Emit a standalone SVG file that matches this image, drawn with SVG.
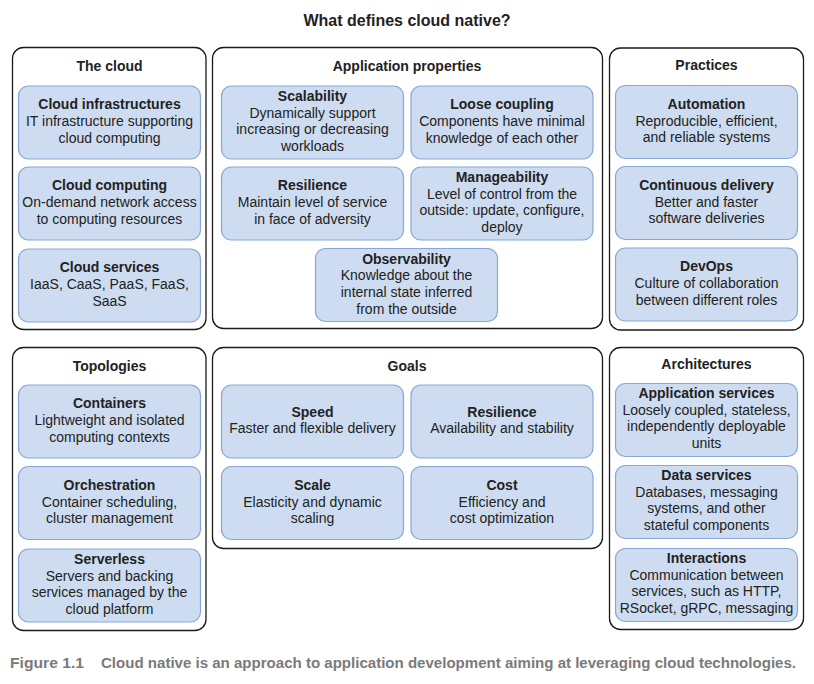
<svg xmlns="http://www.w3.org/2000/svg" width="814" height="684" viewBox="0 0 814 684">
<style>
.panel{fill:#fff;stroke:#1a1a1a;stroke-width:1.3}
.box{fill:#cddcf0;stroke:#88a7d6;stroke-width:1.2}
text{font-family:"Liberation Sans",Arial,sans-serif;font-size:14px;fill:#222;text-anchor:middle}
.b{font-weight:bold}
.title{font-size:16px;font-weight:bold}
.cap{font-weight:bold;fill:#7a7a7a;text-anchor:start}
</style>
<rect width="814" height="684" fill="#fff"/>
<text class="title" x="407" y="26">What defines cloud native?</text>
<g id="connectors"></g>

<g id="panel-cloud">
<rect class="panel" x="12.5" y="47.5" width="193.5" height="282" rx="11"/>
<text class="b" x="109.5" y="70.5">The cloud</text>
</g>
<g id="node-cloud-infrastructures">
<rect class="box" x="18.5" y="86" width="182" height="73" rx="10"/>
<text x="109.5" y="109.3"><tspan class="b">Cloud infrastructures</tspan><tspan x="109.5" y="126">IT infrastructure supporting</tspan><tspan x="109.5" y="142.7">cloud computing</tspan></text>
</g>
<g id="node-cloud-computing">
<rect class="box" x="18.5" y="167" width="182" height="73" rx="10"/>
<text x="109.5" y="190.3"><tspan class="b">Cloud computing</tspan><tspan x="109.5" y="207">On-demand network access</tspan><tspan x="109.5" y="223.7">to computing resources</tspan></text>
</g>
<g id="node-cloud-services">
<rect class="box" x="18.5" y="249" width="182" height="73" rx="10"/>
<text x="109.5" y="272.3"><tspan class="b">Cloud services</tspan><tspan x="109.5" y="289">IaaS, CaaS, PaaS, FaaS,</tspan><tspan x="109.5" y="305.7">SaaS</tspan></text>
</g>

<g id="panel-app">
<rect class="panel" x="212.5" y="47.5" width="390" height="281" rx="11"/>
<text class="b" x="407" y="70.5">Application properties</text>
</g>
<g id="node-scalability">
<rect class="box" x="221.5" y="86" width="182" height="73" rx="10"/>
<text x="312.5" y="101"><tspan class="b">Scalability</tspan><tspan x="312.5" y="117.7">Dynamically support</tspan><tspan x="312.5" y="134.4">increasing or decreasing</tspan><tspan x="312.5" y="151.1">workloads</tspan></text>
</g>
<g id="node-loose-coupling">
<rect class="box" x="411" y="86" width="182" height="73" rx="10"/>
<text x="502" y="109.3"><tspan class="b">Loose coupling</tspan><tspan x="502" y="126">Components have minimal</tspan><tspan x="502" y="142.7">knowledge of each other</tspan></text>
</g>
<g id="node-resilience">
<rect class="box" x="221.5" y="167" width="182" height="73" rx="10"/>
<text x="312.5" y="190.3"><tspan class="b">Resilience</tspan><tspan x="312.5" y="207">Maintain level of service</tspan><tspan x="312.5" y="223.7">in face of adversity</tspan></text>
</g>
<g id="node-manageability">
<rect class="box" x="411" y="167" width="182" height="73" rx="10"/>
<text x="502" y="182"><tspan class="b">Manageability</tspan><tspan x="502" y="198.7">Level of control from the</tspan><tspan x="502" y="215.4">outside: update, configure,</tspan><tspan x="502" y="232.1">deploy</tspan></text>
</g>
<g id="node-observability">
<rect class="box" x="315.5" y="248.5" width="182" height="73" rx="10"/>
<text x="406.5" y="263.5"><tspan class="b">Observability</tspan><tspan x="406.5" y="280.2">Knowledge about the</tspan><tspan x="406.5" y="296.9">internal state inferred</tspan><tspan x="406.5" y="313.6">from the outside</tspan></text>
</g>

<g id="panel-practices">
<rect class="panel" x="609.5" y="48" width="194" height="282" rx="11"/>
<text class="b" x="706.5" y="69.5">Practices</text>
</g>
<g id="node-automation">
<rect class="box" x="615.5" y="85.5" width="182" height="73" rx="10"/>
<text x="706.5" y="108.8"><tspan class="b">Automation</tspan><tspan x="706.5" y="125.5">Reproducible, efficient,</tspan><tspan x="706.5" y="142.2">and reliable systems</tspan></text>
</g>
<g id="node-continuous-delivery">
<rect class="box" x="615.5" y="166.5" width="182" height="73" rx="10"/>
<text x="706.5" y="189.8"><tspan class="b">Continuous delivery</tspan><tspan x="706.5" y="206.5">Better and faster</tspan><tspan x="706.5" y="223.2">software deliveries</tspan></text>
</g>
<g id="node-devops">
<rect class="box" x="615.5" y="248" width="182" height="73" rx="10"/>
<text x="706.5" y="271.3"><tspan class="b">DevOps</tspan><tspan x="706.5" y="288">Culture of collaboration</tspan><tspan x="706.5" y="304.7">between different roles</tspan></text>
</g>

<g id="panel-topologies">
<rect class="panel" x="12.5" y="347.5" width="193.5" height="283" rx="11"/>
<text class="b" x="109.5" y="370.5">Topologies</text>
</g>
<g id="node-containers">
<rect class="box" x="18.5" y="385" width="182" height="73" rx="10"/>
<text x="109.5" y="408.3"><tspan class="b">Containers</tspan><tspan x="109.5" y="425">Lightweight and isolated</tspan><tspan x="109.5" y="441.7">computing contexts</tspan></text>
</g>
<g id="node-orchestration">
<rect class="box" x="18.5" y="466.5" width="182" height="73" rx="10"/>
<text x="109.5" y="489.8"><tspan class="b">Orchestration</tspan><tspan x="109.5" y="506.5">Container scheduling,</tspan><tspan x="109.5" y="523.2">cluster management</tspan></text>
</g>
<g id="node-serverless">
<rect class="box" x="18.5" y="549" width="182" height="73" rx="10"/>
<text x="109.5" y="564"><tspan class="b">Serverless</tspan><tspan x="109.5" y="580.7">Servers and backing</tspan><tspan x="109.5" y="597.4">services managed by the</tspan><tspan x="109.5" y="614.1">cloud platform</tspan></text>
</g>

<g id="panel-goals">
<rect class="panel" x="212.5" y="347.5" width="390" height="201" rx="11"/>
<text class="b" x="407" y="370.5">Goals</text>
</g>
<g id="node-speed">
<rect class="box" x="221.5" y="385" width="182" height="73" rx="10"/>
<text x="312.5" y="416.7"><tspan class="b">Speed</tspan><tspan x="312.5" y="433.4">Faster and flexible delivery</tspan></text>
</g>
<g id="node-goal-resilience">
<rect class="box" x="411" y="385" width="182" height="73" rx="10"/>
<text x="502" y="416.7"><tspan class="b">Resilience</tspan><tspan x="502" y="433.4">Availability and stability</tspan></text>
</g>
<g id="node-scale">
<rect class="box" x="221.5" y="466.5" width="182" height="73" rx="10"/>
<text x="312.5" y="489.8"><tspan class="b">Scale</tspan><tspan x="312.5" y="506.5">Elasticity and dynamic</tspan><tspan x="312.5" y="523.2">scaling</tspan></text>
</g>
<g id="node-cost">
<rect class="box" x="411" y="466.5" width="182" height="73" rx="10"/>
<text x="502" y="489.8"><tspan class="b">Cost</tspan><tspan x="502" y="506.5">Efficiency and</tspan><tspan x="502" y="523.2">cost optimization</tspan></text>
</g>

<g id="panel-architectures">
<rect class="panel" x="609.5" y="347.5" width="194" height="282" rx="11"/>
<text class="b" x="706.5" y="368.5">Architectures</text>
</g>
<g id="node-application-services">
<rect class="box" x="615.5" y="383.5" width="182" height="73" rx="10"/>
<text x="706.5" y="397.8"><tspan class="b">Application services</tspan><tspan x="706.5" y="414.5">Loosely coupled, stateless,</tspan><tspan x="706.5" y="431.2">independently deployable</tspan><tspan x="706.5" y="447.9">units</tspan></text>
</g>
<g id="node-data-services">
<rect class="box" x="615.5" y="465.5" width="182" height="73" rx="10"/>
<text x="706.5" y="479.8"><tspan class="b">Data services</tspan><tspan x="706.5" y="496.5">Databases, messaging</tspan><tspan x="706.5" y="513.2">systems, and other</tspan><tspan x="706.5" y="529.9">stateful components</tspan></text>
</g>
<g id="node-interactions">
<rect class="box" x="615.5" y="548.5" width="182" height="73" rx="10"/>
<text x="706.5" y="562.8"><tspan class="b">Interactions</tspan><tspan x="706.5" y="579.5">Communication between</tspan><tspan x="706.5" y="596.2">services, such as HTTP,</tspan><tspan x="706.5" y="612.9">RSocket, gRPC, messaging</tspan></text>
</g>

<text class="cap" x="10" y="668" textLength="74" lengthAdjust="spacingAndGlyphs">Figure 1.1</text>
<text class="cap" x="101" y="668" textLength="695" lengthAdjust="spacingAndGlyphs">Cloud native is an approach to application development aiming at leveraging cloud technologies.</text>
</svg>
